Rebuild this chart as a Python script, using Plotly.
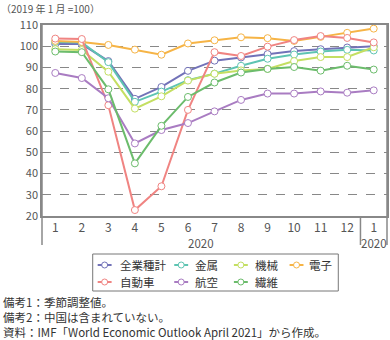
import plotly.graph_objects as go

months = ["1", "2", "3", "4", "5", "6", "7", "8", "9", "10", "11", "12", "1"]
years = ["2020"] * 12 + ["2020"]

names = ["全業種計", "金属", "機械", "電子", "自動車", "航空", "繊維"]
all_ind = [101.0, 101.0, 93.0, 75.2, 80.8, 88.4, 93.2, 94.7, 96.3, 97.7, 98.6, 99.4, 100.0]
metal = [102.0, 101.8, 92.5, 73.8, 78.6, 84.0, 87.1, 90.8, 94.1, 96.1, 97.5, 98.3, 98.0]
machine = [98.6, 98.2, 88.0, 70.6, 76.4, 83.8, 87.0, 88.6, 89.3, 93.0, 94.9, 94.9, 99.5]
electro = [102.5, 102.0, 100.6, 98.4, 96.0, 101.3, 102.8, 104.2, 103.8, 102.5, 104.4, 106.3, 108.3]
auto = [103.6, 103.4, 72.2, 22.8, 34.0, 70.0, 97.2, 95.4, 99.8, 102.9, 104.8, 103.9, 101.8]
aviation = [87.4, 85.0, 75.5, 54.2, 60.5, 63.8, 69.3, 74.7, 77.7, 77.7, 78.7, 78.1, 79.2]
textile = [97.5, 97.2, 79.7, 44.8, 62.5, 76.1, 82.9, 87.6, 89.3, 90.2, 88.5, 90.8, 89.0]
series = [all_ind, metal, machine, electro, auto, aviation, textile]
colors = ["#7272b8", "#5ec4b2", "#c4df62", "#f6b446", "#f08482", "#a97cc2", "#6cbc6c"]

W, H = 390, 340
L, R, T, B = 42, 1, 25, 124
PW, PH = W - L - R, H - T - B
FONT = "Noto Sans CJK JP"


def xp(px):
    return (px - L) / PW


def yp(py):
    return (T + PH - py) / PH


xs = list(range(len(months)))
fig = go.Figure()
for name, vals, col in zip(names, series, colors):
    fig.add_trace(go.Scatter(
        x=xs, y=vals, name=name, mode="lines+markers",
        line=dict(color=col, width=2),
        marker=dict(symbol="circle", size=7, color="white", line=dict(color=col, width=1)),
        showlegend=False,
    ))

shapes = []
annotations = []
axc = "#888888"
# frame extensions
shapes.append(dict(type="line", xref="paper", yref="paper", x0=0, x1=0, y0=yp(245), y1=1,
                   line=dict(color=axc, width=1.5)))
shapes.append(dict(type="line", xref="paper", yref="paper", x0=1, x1=1, y0=yp(245), y1=1,
                   line=dict(color=axc, width=1.5)))
shapes.append(dict(type="line", xref="x", yref="paper", x0=11.5, x1=11.5, y0=yp(245), y1=0,
                   line=dict(color=axc, width=1.5)))

# year labels
groups = {}
for i, yv in enumerate(years):
    key = (yv, 0 if i < 12 else 1)
    groups.setdefault(key, []).append(i)
for (yv, g), idx in groups.items():
    annotations.append(dict(text=yv, xref="x", yref="paper", x=sum(idx) / len(idx), y=yp(243),
                            showarrow=False, xanchor="center", yanchor="middle",
                            font=dict(size=11.5, color="#555555", family=FONT)))

# title
annotations.append(dict(text="（2019 年 1 月 =100）", xref="paper", yref="paper", x=xp(0), y=yp(0),
                        showarrow=False, xanchor="left", yanchor="top", borderpad=0,
                        font=dict(size=10, color="#555555", family=FONT)))

# legend (manual)
shapes.append(dict(type="rect", xref="paper", yref="paper", x0=xp(93), x1=xp(340), y0=yp(291), y1=yp(254),
                   line=dict(color="#777777", width=1), fillcolor="white"))
sym_cx = [105, 182, 242, 298]
txt_x = [118, 194, 254, 309]
rows_y = [265, 282]
for k, (name, col) in enumerate(zip(names, colors)):
    r = 0 if k < 4 else 1
    c = k if k < 4 else k - 4
    cy = rows_y[r]
    cx = sym_cx[c]
    shapes.append(dict(type="line", xref="paper", yref="paper", x0=xp(cx - 7), x1=xp(cx + 7),
                       y0=yp(cy), y1=yp(cy), line=dict(color=col, width=2)))
    shapes.append(dict(type="circle", xref="paper", yref="paper", xsizemode="pixel", ysizemode="pixel",
                       xanchor=xp(cx), yanchor=yp(cy), x0=-3, x1=3, y0=-3, y1=3,
                       line=dict(color=col, width=1), fillcolor="white"))
    annotations.append(dict(text=name, xref="paper", yref="paper", x=xp(txt_x[c]), y=yp(cy),
                            showarrow=False, xanchor="left", yanchor="middle",
                            font=dict(size=11.5, color="#333333", family=FONT)))

notes = ["備考1：季節調整値。", "備考2：中国は含まれていない。",
         "資料：IMF「World Economic Outlook April 2021」から作成。"]
for i, t in enumerate(notes):
    annotations.append(dict(text=t, xref="paper", yref="paper", x=xp(1), y=yp(302 + 15 * i),
                            showarrow=False, xanchor="left", yanchor="middle",
                            font=dict(size=11.5, color="#333333", family=FONT)))

fig.update_layout(
    width=W, height=H,
    margin=dict(l=L, r=R, t=T, b=B, pad=0),
    paper_bgcolor="white", plot_bgcolor="white",
    font=dict(family=FONT, size=12, color="#555555"),
    shapes=shapes, annotations=annotations,
    showlegend=False,
)
fig.update_xaxes(
    range=[-0.5, len(months) - 0.5], tickmode="array", tickvals=xs, ticktext=months,
    showgrid=False, zeroline=False, showline=True, linecolor=axc, linewidth=1.5,
    mirror=True, ticks="", tickfont=dict(size=12, color="#555555"),
)
fig.update_yaxes(
    range=[20, 110], tickmode="linear", tick0=20, dtick=10,
    showgrid=True, gridcolor="#888888", griddash="dash", gridwidth=1,
    zeroline=False, showline=True, linecolor=axc, linewidth=1.5, mirror=True,
    ticks="", tickfont=dict(size=11, color="#555555"),
)
fig.write_html("out.html")
